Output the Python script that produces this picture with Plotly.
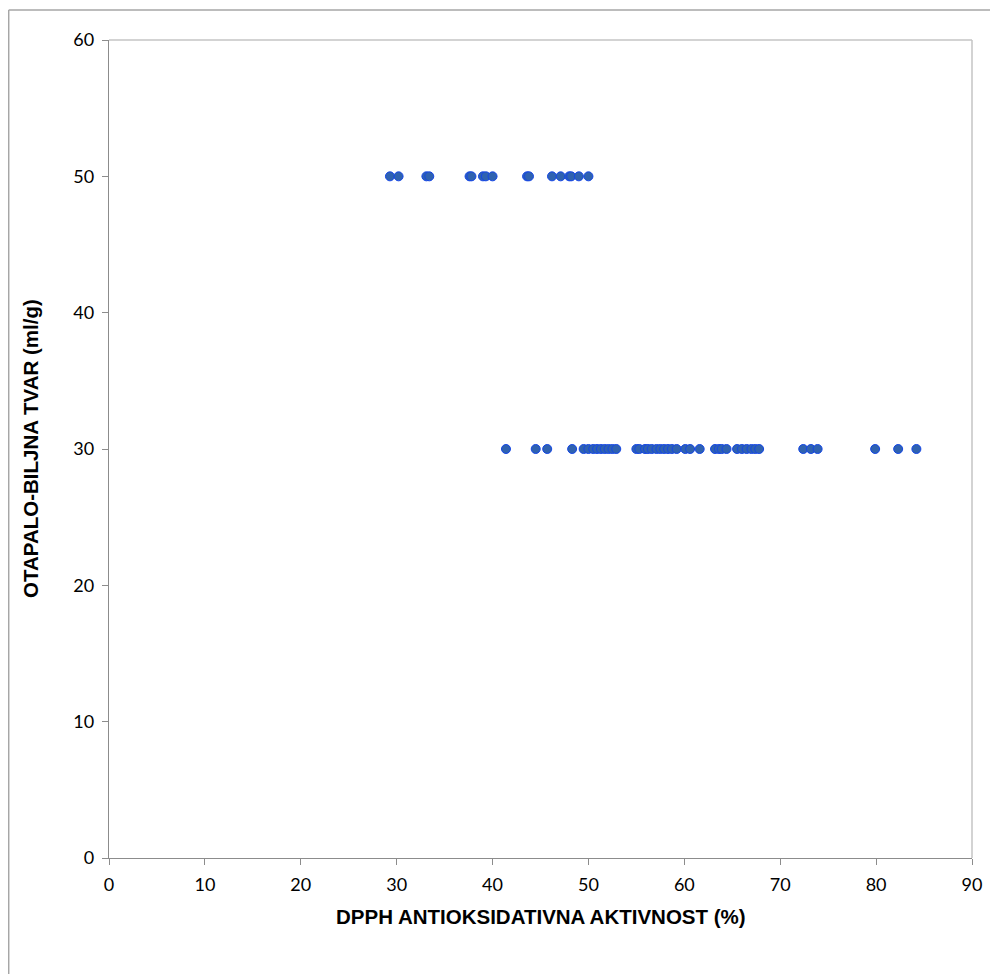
import plotly.graph_objects as go

# DPPH antioxidant activity (%) for each solvent/plant ratio group
dpph_50 = [29.3, 30.2, 33.1, 33.4, 37.6, 37.8, 39.0, 39.3, 40.0, 43.6, 43.8,
           46.2, 47.1, 48.0, 48.2, 49.0, 50.0]
ratio_50 = [50] * len(dpph_50)

dpph_30 = [41.4, 44.5, 45.7, 48.3, 49.5, 50.0, 50.5, 50.9, 51.3, 51.7, 52.1,
           52.5, 52.9, 55.0, 55.3, 55.9, 56.2, 56.6, 57.1, 57.5, 57.9, 58.3,
           58.7, 59.2, 60.1, 60.6, 61.6, 63.2, 63.6, 63.9, 64.4, 65.5, 66.0,
           66.5, 67.0, 67.4, 67.8, 72.4, 73.2, 73.9, 79.9, 82.3, 84.2]
ratio_30 = [30] * len(dpph_30)

x_ticks = [0, 10, 20, 30, 40, 50, 60, 70, 80, 90]
y_ticks = [0, 10, 20, 30, 40, 50, 60]

x_title = "DPPH ANTIOKSIDATIVNA AKTIVNOST (%)"
y_title = "OTAPALO-BILJNA TVAR (ml/g)"

marker = dict(size=9, color="#2F62B0", line=dict(color="#1446E6", width=1))

fig = go.Figure()
fig.add_trace(go.Scatter(x=dpph_50 + dpph_30, y=ratio_50 + ratio_30,
                         mode="markers", marker=marker, showlegend=False,
                         cliponaxis=False))

# page has an 8px body margin; work in figure pixels
OFF = 8
W, H = 998 - OFF, 974 - OFF
L, R, T, B = 109 - OFF, 26, 40 - OFF, 116
pw, ph = W - L - R, H - T - B

def px(xp):
    return (xp - OFF - L) / pw

def py(yp):
    return (H - B - (yp - OFF)) / ph

axis_common = dict(showgrid=False, zeroline=False, showline=True,
                   linecolor="#8C8C8C", linewidth=1.3, ticks="outside",
                   ticklen=6, tickcolor="#8C8C8C", tickwidth=1.3,
                   tickfont=dict(family="Lato", size=18, color="#000000"))

title_font = dict(family="Liberation Sans", size=20.5, color="#000000",
                  weight="bold")

fig.update_layout(
    width=W, height=H,
    margin=dict(l=L, r=R, t=T, b=B, autoexpand=False),
    paper_bgcolor="white", plot_bgcolor="white",
    xaxis=dict(range=[0, 90], tickvals=x_ticks, ticklabelstandoff=4,
               **axis_common),
    yaxis=dict(range=[0, 60], tickvals=y_ticks, ticklabelstandoff=4,
               **axis_common),
    annotations=[
        dict(text=x_title, xref="paper", yref="paper", x=0.5, y=0,
             xanchor="center", yanchor="middle", yshift=-58,
             showarrow=False, font=title_font),
        dict(text=y_title, xref="paper", yref="paper", x=0, y=0.5,
             xanchor="center", yanchor="middle", xshift=-79, textangle=-90,
             showarrow=False, font=title_font),
    ],
    shapes=[
        # plot area frame (top & right)
        dict(type="line", xref="paper", yref="paper", x0=0, x1=1, y0=1, y1=1,
             line=dict(color="#C4C4C4", width=1.5)),
        dict(type="line", xref="paper", yref="paper", x0=1, x1=1, y0=0, y1=1,
             line=dict(color="#C4C4C4", width=1.5)),
        # outer chart border
        dict(type="line", xref="paper", yref="paper", x0=px(8.7), x1=px(1005),
             y0=py(10), y1=py(10), line=dict(color="#A6A6A6", width=1.5)),
        dict(type="line", xref="paper", yref="paper", x0=px(8.7), x1=px(8.7),
             y0=py(10), y1=py(1000), line=dict(color="#A6A6A6", width=1.5)),
    ],
)

fig.write_html("out.html")
